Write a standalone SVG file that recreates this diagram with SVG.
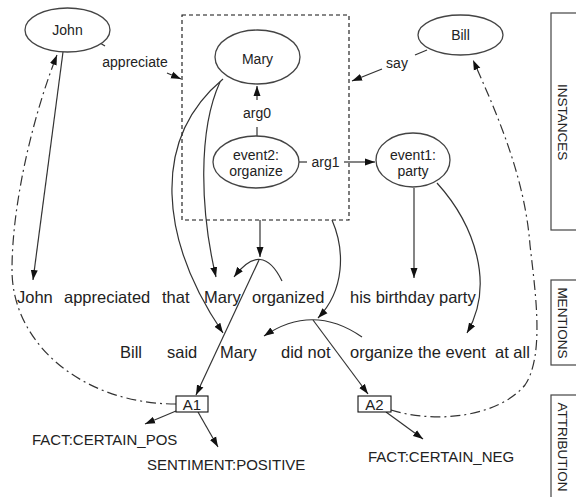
<svg xmlns="http://www.w3.org/2000/svg" width="576" height="497" viewBox="0 0 576 497">
<style>
  text { font-family: "Liberation Sans", Arial, sans-serif; fill: #222; }
  .node ellipse { fill: #fff; stroke: #444; stroke-width: 1.3; }
  .nl { font-size: 14px; text-anchor: middle; }
  .el { font-size: 14px; text-anchor: middle; }
  .w { font-size: 16.5px; }
  .att { font-size: 15px; }
  .edge { fill: none; stroke: #333; stroke-width: 1.2; }
  .dd { stroke-dasharray: 10 4 2 4; }
  .box { fill: none; stroke: #111; stroke-width: 1.1; stroke-dasharray: 4 3; }
  .side { fill: #fff; stroke: #444; stroke-width: 1.2; }
  .sl { font-size: 13.5px; text-anchor: middle; dominant-baseline: central; }
  .ab { fill: #fff; stroke: #111; stroke-width: 1.1; }
</style>
<defs>
  <marker id="arr" markerUnits="userSpaceOnUse" markerWidth="10" markerHeight="8" refX="10" refY="4" orient="auto">
    <path d="M0,0.5 L10,4 L0,7.5 z" fill="#111"/>
  </marker>
</defs>

<g id="side-labels">
  <rect class="side" x="551" y="13" width="40" height="217"/>
  <text class="sl" transform="translate(562.5,122) rotate(90)">INSTANCES</text>
  <rect class="side" x="551" y="280" width="40" height="85"/>
  <text class="sl" transform="translate(562.5,323) rotate(90)">MENTIONS</text>
  <rect class="side" x="551" y="395" width="40" height="115"/>
  <text class="sl" transform="translate(562.5,447) rotate(90)">ATTRIBUTION</text>
</g>

<g id="event2-box">
  <rect class="box" x="182" y="15" width="167" height="205"/>
</g>

<g id="connectors">
  <!-- appreciate -->
  <path class="edge" d="M100,43 L105,46"/>
  <path class="edge" d="M167,73 L181,79" marker-end="url(#arr)"/>
  <text class="el" x="135" y="67">appreciate</text>
  <!-- say -->
  <path class="edge" d="M427,50 L415,55"/>
  <path class="edge" d="M382,69 L352,81" marker-end="url(#arr)"/>
  <text class="el" x="397" y="68">say</text>
  <!-- arg0 -->
  <path class="edge" d="M257,136 L257,127"/>
  <path class="edge" d="M257,100 L257,86" marker-end="url(#arr)"/>
  <text class="el" x="257" y="118">arg0</text>
  <!-- arg1 -->
  <path class="edge" d="M299,162 L307,162"/>
  <path class="edge" d="M344,162 L375,162" marker-end="url(#arr)"/>
  <text class="el" x="325.5" y="167">arg1</text>

  <!-- John -> John -->
  <path class="edge" d="M63,52 L33,280" marker-end="url(#arr)"/>
  <!-- Mary -> Mary (row 1) -->
  <path class="edge" d="M220,82 C 198,130 200,210 216,277" marker-end="url(#arr)"/>
  <!-- Mary -> Mary (row 2) -->
  <path class="edge" d="M223,79 C 150,140 160,240 223,333" marker-end="url(#arr)"/>
  <!-- box -> organized -->
  <path class="edge" d="M260,220 L260,257" marker-end="url(#arr)"/>
  <path class="edge" d="M282,281 Q 262,240 234,277" marker-end="url(#arr)"/>
  <path class="edge" d="M259,260 L196,395" marker-end="url(#arr)"/>
  <!-- box -> did not organize -->
  <path class="edge" d="M332,220 C 345,250 345,290 318,318" marker-end="url(#arr)"/>
  <path class="edge" d="M362,337 Q 313,303 264,336" marker-end="url(#arr)"/>
  <path class="edge" d="M313,320 L368,394" marker-end="url(#arr)"/>
  <!-- event1 -> his birthday party -->
  <path class="edge" d="M414,188 L414,278" marker-end="url(#arr)"/>
  <!-- event1 -> the event -->
  <path class="edge" d="M437,183 C 475,225 495,285 467,333" marker-end="url(#arr)"/>
  <!-- attribution sources -->
  <path class="edge dd" d="M176,404 C 83,404 12,344 12,270 C 12,200 35,110 57,55" marker-end="url(#arr)"/>
  <path class="edge dd" d="M391,410 C 440,425 500,415 525,385 C 545,355 535,290 530,245 C 525,180 500,120 473,60" marker-end="url(#arr)"/>
  <!-- attribution values -->
  <path class="edge" d="M176,411 L145,424" marker-end="url(#arr)"/>
  <path class="edge" d="M198,412 L218,447" marker-end="url(#arr)"/>
  <path class="edge" d="M386,412 L423,439" marker-end="url(#arr)"/>
</g>

<g id="john" class="node">
  <ellipse cx="67.5" cy="30" rx="42.5" ry="22"/>
  <text class="nl" x="67.5" y="35">John</text>
</g>
<g id="mary" class="node">
  <ellipse cx="257.5" cy="57" rx="42.5" ry="27"/>
  <text class="nl" x="257.5" y="64">Mary</text>
</g>
<g id="event2" class="node">
  <ellipse cx="256" cy="162" rx="43" ry="26"/>
  <text class="nl" x="256" y="160">event2:</text>
  <text class="nl" x="256" y="176">organize</text>
</g>
<g id="event1" class="node">
  <ellipse cx="413" cy="160" rx="37" ry="27"/>
  <text class="nl" x="413" y="160">event1:</text>
  <text class="nl" x="413" y="176">party</text>
</g>
<g id="bill" class="node">
  <ellipse cx="460.5" cy="35" rx="42.5" ry="20"/>
  <text class="nl" x="460.5" y="40">Bill</text>
</g>

<g id="mentions-1">
  <text class="w" x="17" y="303">John</text>
  <text class="w" x="64" y="303">appreciated</text>
  <text class="w" x="162" y="303">that</text>
  <text class="w" x="204" y="303">Mary</text>
  <text class="w" x="252" y="303">organized</text>
  <text class="w" x="350" y="303">his birthday party</text>
</g>
<g id="mentions-2">
  <text class="w" x="120" y="358">Bill</text>
  <text class="w" x="167" y="358">said</text>
  <text class="w" x="220" y="358">Mary</text>
  <text class="w" x="281" y="358">did not</text>
  <text class="w" x="350" y="358">organize</text>
  <text class="w" x="418" y="358">the event</text>
  <text class="w" x="495" y="358">at all</text>
</g>

<g id="a1">
  <rect class="ab" x="176" y="396" width="32" height="16"/>
  <text class="att" x="192" y="409.5" text-anchor="middle">A1</text>
</g>
<g id="a2">
  <rect class="ab" x="358" y="396" width="33" height="16"/>
  <text class="att" x="374.5" y="409.5" text-anchor="middle">A2</text>
</g>
<g id="labels">
  <text class="att" x="32" y="445">FACT:CERTAIN_POS</text>
  <text class="att" x="147" y="470">SENTIMENT:POSITIVE</text>
  <text class="att" x="368" y="462">FACT:CERTAIN_NEG</text>
</g>
</svg>
